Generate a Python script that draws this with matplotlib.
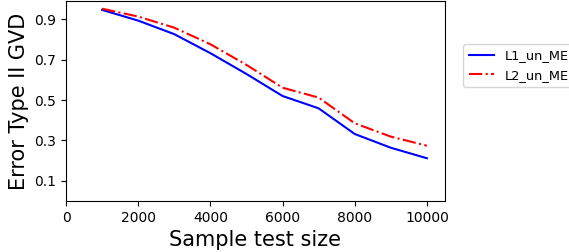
import matplotlib
matplotlib.use('Agg')
import matplotlib.pyplot as plt

# Tamanhos de amostra e erros tipo II
sizes = [1000, 2000, 3000, 4000, 5000, 6000, 7000, 8000, 9000, 10000]
l1_un_me = [0.946, 0.893, 0.826, 0.732, 0.629, 0.520, 0.459, 0.332, 0.264, 0.212]
l2_un_me = [0.952, 0.913, 0.858, 0.776, 0.674, 0.561, 0.512, 0.385, 0.319, 0.274]
yticks = [0.1, 0.3, 0.5, 0.7, 0.9]
xticks = [0, 2000, 4000, 6000, 8000, 10000]

fig = plt.figure(figsize=(5.69, 2.52), dpi=100)
ax = fig.add_axes([0.116, 0.202, 0.666, 0.794])
ax.plot(sizes, l1_un_me, color='blue', linestyle='-', linewidth=1.5, label='L1_un_ME')
ax.plot(sizes, l2_un_me, color='red', linestyle='-.', linewidth=1.5, label='L2_un_ME')
ax.set_xlim(0, 10500)
ax.set_ylim(0, 0.99)
ax.set_yticks(yticks)
ax.set_xticks(xticks)
ax.tick_params(labelsize=10)
ax.set_xlabel('Sample test size', fontsize=15)
ax.set_ylabel('Error Type II GVD', fontsize=15)
fig.legend(loc='upper left', bbox_to_anchor=(0.803, 0.851), fontsize=9.3)
fig.savefig('out.png', dpi=100)
